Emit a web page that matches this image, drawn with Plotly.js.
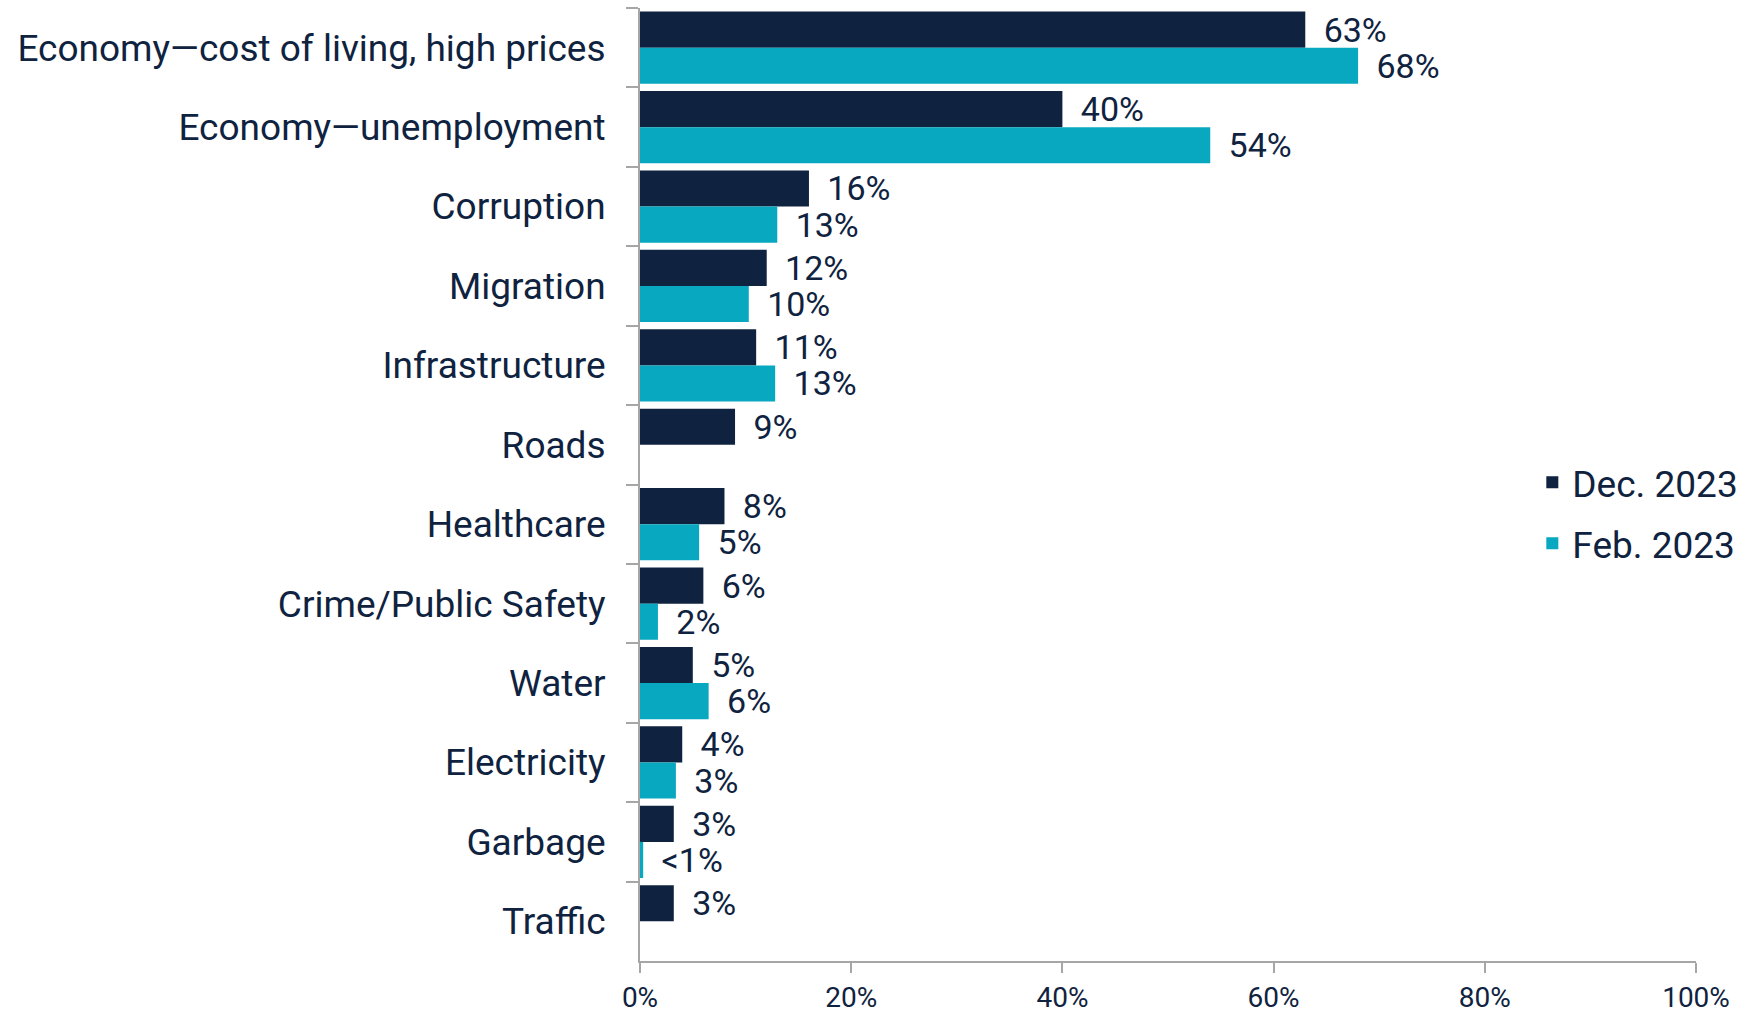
<!DOCTYPE html>
<html>
<head>
<meta charset="utf-8">
<script src="https://cdn.plot.ly/plotly-3.0.1.min.js"></script>
<style>html,body{margin:0;padding:0;background:#fff;}#chart{width:1756px;height:1016px;}</style>
</head>
<body>
<div id="chart"></div>
<script>
const categories = [
  "Economy\u2014cost of living, high prices",
  "Economy\u2014unemployment",
  "Corruption",
  "Migration",
  "Infrastructure",
  "Roads",
  "Healthcare",
  "Crime/Public Safety",
  "Water",
  "Electricity",
  "Garbage",
  "Traffic"
];
const decValues = [63, 40, 16, 12, 11, 9, 8, 6, 5, 4, 3.2, 3.2];
const decLabels = ["63%", "40%", "16%", "12%", "11%", "9%", "8%", "6%", "5%", "4%", "3%", "3%"];
const febValues = [68, 54, 13, 10.3, 12.8, null, 5.6, 1.7, 6.5, 3.4, 0.3, null];
const febLabels = ["68%", "54%", "13%", "10%", "13%", "", "5%", "2%", "6%", "3%", "<1%", ""];
const xTickVals = [0, 20, 40, 60, 80, 100];
const xTickText = ["0%", "20%", "40%", "60%", "80%", "100%"];

const navy = "#0F2340";
const teal = "#08A8C0";
const axisGray = "#A6A6A6";
const fontFam = "Roboto, 'Open Sans', sans-serif";
const pad = "\u00a0\u2009";

const traces = [
  {
    type: "bar", orientation: "h", name: "Dec. 2023",
    y: categories, x: decValues,
    text: decLabels.map(t => t ? pad + t : ""),
    textposition: "outside", cliponaxis: false, constraintext: "none",
    outsidetextfont: {family: fontFam, size: 34, color: navy},
    marker: {color: navy},
    legendgroup: "a", hoverinfo: "none"
  },
  {
    type: "bar", orientation: "h", name: "Feb. 2023",
    y: categories, x: febValues,
    text: febLabels.map(t => t ? pad + t : ""),
    textposition: "outside", cliponaxis: false, constraintext: "none",
    outsidetextfont: {family: fontFam, size: 34, color: navy},
    marker: {color: teal},
    legendgroup: "b", hoverinfo: "none"
  }
];

const layout = {
  width: 1756, height: 1016,
  margin: {l: 640, r: 60, t: 8, b: 55, pad: 0},
  paper_bgcolor: "#fff", plot_bgcolor: "#fff",
  barmode: "group", bargap: 0.09, bargroupgap: 0,
  font: {family: fontFam, color: navy},
  showlegend: true,
  legend: {
    x: 0.845, xanchor: "left", y: 0.47, yanchor: "middle",
    font: {family: fontFam, size: 37, color: navy},
    traceorder: "grouped", tracegroupgap: 10,
    bgcolor: "rgba(0,0,0,0)", itemwidth: 30
  },
  xaxis: {
    range: [0, 100], tickvals: xTickVals, ticktext: xTickText,
    showgrid: false, zeroline: false,
    showline: true, linecolor: axisGray, linewidth: 2,
    ticks: "outside", ticklen: 10, tickwidth: 2, tickcolor: axisGray,
    tickfont: {family: fontFam, size: 28, color: navy},
    ticklabelstandoff: 0
  },
  yaxis: {
    type: "category", autorange: "reversed",
    showgrid: false, zeroline: false,
    showline: true, linecolor: axisGray, linewidth: 2,
    ticks: "outside", tickson: "boundaries", ticklen: 12, tickwidth: 2, tickcolor: axisGray,
    tickfont: {family: fontFam, size: 37, color: navy},
    ticklabelstandoff: 25
  }
};

Plotly.newPlot("chart", traces, layout, {displayModeBar: false, staticPlot: true});
</script>
</body>
</html>
